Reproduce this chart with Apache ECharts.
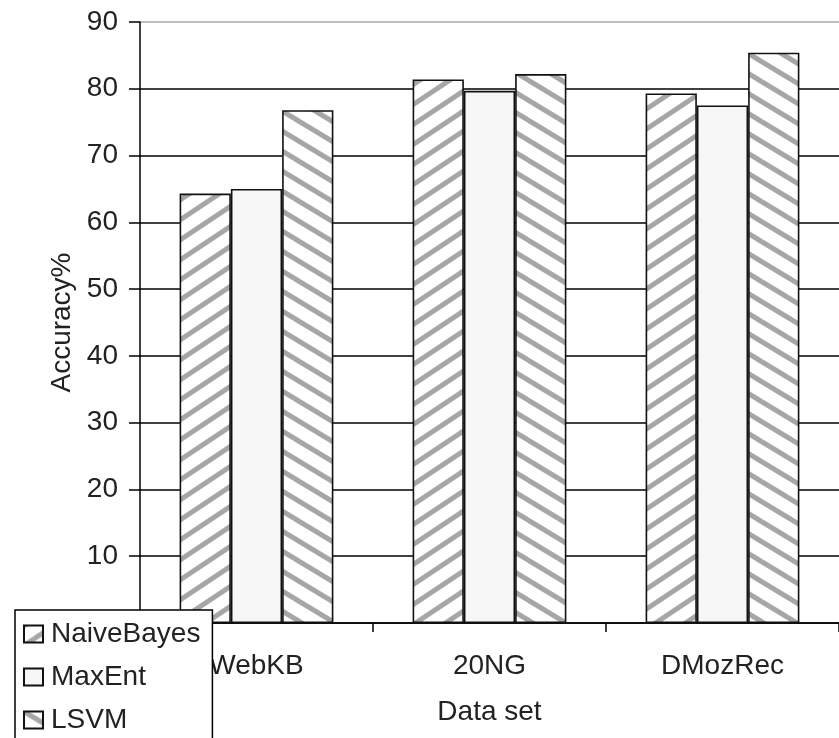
<!DOCTYPE html>
<html>
<head>
<meta charset="utf-8">
<script src="https://cdn.jsdelivr.net/npm/echarts@6/dist/echarts.min.js"></script>
<style>
  html, body { margin: 0; padding: 0; background: #fff; }
  #chart { width: 839px; height: 738px; }
</style>
</head>
<body>
<div id="chart"></div>
<script>
// ---- data ----
const categories = ['WebKB', '20NG', 'DMozRec'];
const seriesNames = ['NaiveBayes', 'MaxEnt', 'LSVM'];
const naiveBayes = [64.3, 81.4, 79.3];
const maxEnt = [65.0, 79.7, 77.5];
const lsvm = [76.8, 82.2, 85.4];
const yMin = 0, yMax = 90, yStep = 10;

// ---- hatch patterns ----
function hatch(dir, w, h, lw) {
  const c = document.createElement('canvas');
  c.width = w; c.height = h;
  const g = c.getContext('2d');
  g.fillStyle = '#ffffff';
  g.fillRect(0, 0, w, h);
  g.strokeStyle = '#a6a6a6';
  g.lineWidth = lw;
  for (let k = -2; k <= 2; k++) {
    g.beginPath();
    if (dir === 'up') {
      g.moveTo(-w, 2 * h + k * h);
      g.lineTo(2 * w, -h + k * h);
    } else {
      g.moveTo(-w, -h + k * h);
      g.lineTo(2 * w, 2 * h + k * h);
    }
    g.stroke();
  }
  return c;
}
const upPattern = { image: hatch('up', 30, 20, 5), repeat: 'repeat' };
const downPattern = { image: hatch('down', 33, 20, 5), repeat: 'repeat' };

const FONT = 'Liberation Sans, Arial, sans-serif';
const TXT = '#222222';

const chart = echarts.init(document.getElementById('chart'), null, { renderer: 'canvas' });

const splitColors = [];
for (let v = yMin; v <= yMax; v += yStep) splitColors.push(v === yMax ? '#a8a8a8' : '#000000');

const barBase = {
  type: 'bar',
  barGap: '0%',
  barCategoryGap: '34%',
  animation: false
};

chart.setOption({
  animation: false,
  backgroundColor: '#ffffff',
  grid: { left: 140, top: 22, width: 702, height: 601, containLabel: false },
  legend: {
    orient: 'vertical',
    left: 15,
    top: 610,
    width: 198,
    height: 170,
    data: seriesNames,
    icon: 'rect',
    itemWidth: 19,
    itemHeight: 17,
    itemGap: 15,
    padding: [10, 12, 30, 8],
    backgroundColor: '#ffffff',
    borderColor: '#000000',
    borderWidth: 1.5,
    borderRadius: 0,
    textStyle: { fontFamily: FONT, fontSize: 28, color: TXT, padding: [0, 0, 0, 3] },
    selectedMode: false,
    z: 10
  },
  xAxis: {
    type: 'category',
    data: categories,
    name: 'Data set',
    nameLocation: 'middle',
    nameGap: 75,
    nameTextStyle: { fontFamily: FONT, fontSize: 28, color: TXT },
    axisLine: { show: true, lineStyle: { color: '#000', width: 1.5 } },
    axisTick: { show: true, length: 9, lineStyle: { color: '#000', width: 1.5 } },
    axisLabel: { fontFamily: FONT, fontSize: 28, color: TXT, margin: 29 },
    splitLine: { show: false }
  },
  yAxis: {
    type: 'value',
    min: yMin,
    max: yMax,
    interval: yStep,
    name: 'Accuracy%',
    nameLocation: 'middle',
    nameRotate: 90,
    nameGap: 64,
    nameTextStyle: { fontFamily: FONT, fontSize: 28, color: TXT },
    axisLine: { show: true, lineStyle: { color: '#000', width: 1.5 } },
    axisTick: { show: true, length: 11, lineStyle: { color: '#000', width: 1.5 } },
    axisLabel: { fontFamily: FONT, fontSize: 28, color: TXT, margin: 22 },
    splitLine: { show: true, lineStyle: { color: splitColors, width: 1.5 } }
  },
  series: [
    Object.assign({}, barBase, {
      name: seriesNames[0],
      data: naiveBayes,
      itemStyle: { color: upPattern, borderColor: '#111', borderWidth: 1.6 }
    }),
    Object.assign({}, barBase, {
      name: seriesNames[1],
      data: maxEnt,
      itemStyle: { color: '#f6f6f6', borderColor: '#111', borderWidth: 1.6 }
    }),
    Object.assign({}, barBase, {
      name: seriesNames[2],
      data: lsvm,
      itemStyle: { color: downPattern, borderColor: '#111', borderWidth: 1.6 }
    })
  ]
});
</script>
</body>
</html>
